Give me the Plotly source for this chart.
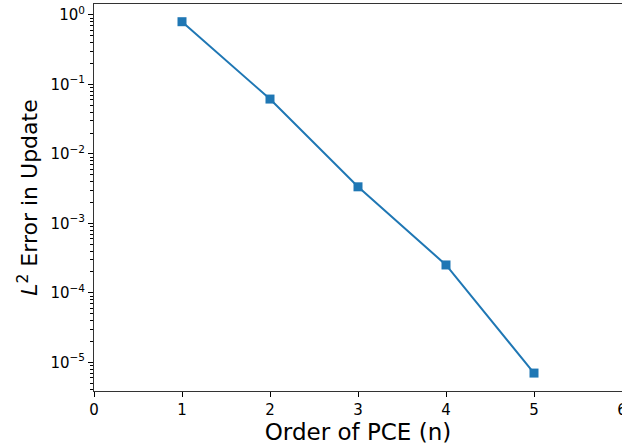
import plotly.graph_objects as go

orders = [1, 2, 3, 4, 5]
errors = [0.80, 0.0616, 0.00336, 2.52e-4, 7.0e-6]

x_ticks = [0, 1, 2, 3, 4, 5, 6]
y_tick_exps = [0, -1, -2, -3, -4, -5]
y_tick_vals = [10.0 ** e for e in y_tick_exps]
y_tick_text = ["10<sup>%s</sup>" % (str(e).replace("-", "\u2212")) for e in y_tick_exps]
minor_vals = [m * 10.0 ** e for e in range(-6, 1) for m in range(2, 10)]

fig = go.Figure()
fig.add_trace(go.Scatter(
    x=orders, y=errors, mode="lines+markers",
    line=dict(color="#1f77b4", width=2),
    marker=dict(symbol="square", size=9, color="#1f77b4"),
    showlegend=False,
))

font = "DejaVu Sans, sans-serif"
fig.update_layout(
    width=622, height=446,
    margin=dict(l=94, r=0, t=4, b=55),
    paper_bgcolor="white", plot_bgcolor="white",
    font=dict(family=font, color="black", size=14),
    xaxis=dict(
        range=[0, 6], tickvals=x_ticks, ticks="outside", ticklen=5, tickwidth=1,
        tickcolor="black", showgrid=False, zeroline=False, automargin=False,
        showline=True, linecolor="#333333", linewidth=1, mirror=True,
        ticklabeloverflow="allow",
        title=dict(text="Order of PCE (n)", font=dict(size=23), standoff=3),
        tickfont=dict(size=15),
    ),
    yaxis=dict(
        type="log", range=[-5.413, 0.158], tickvals=y_tick_vals, ticktext=y_tick_text,
        ticks="outside", ticklen=5, tickwidth=1, tickcolor="black", automargin=False,
        showgrid=False, zeroline=False, showline=True, linecolor="#333333", linewidth=1,
        minor=dict(tickvals=minor_vals, ticks="outside", ticklen=3, tickwidth=1,
                   tickcolor="black", showgrid=False),
        title=dict(text="<i>L</i><sup>2</sup> Error in Update", font=dict(size=22), standoff=6),
        tickfont=dict(size=15),
    ),
)

fig.write_html("out.html", config={"displayModeBar": False},
               post_script="document.body.style.margin='0px';")
